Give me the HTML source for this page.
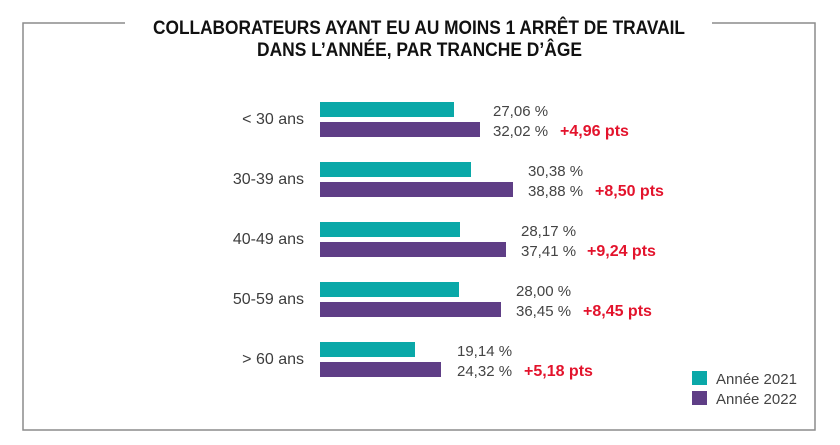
<!DOCTYPE html>
<html>
<head>
<meta charset="utf-8">
<style>
  html, body { margin: 0; padding: 0; background: #ffffff; }
  body { width: 840px; height: 445px; overflow: hidden; }
  svg { display: block; }
  .cat { font-family: "Liberation Sans", sans-serif; font-size: 16px; fill: #3d3d3d; }
  .val { font-family: "Liberation Sans", sans-serif; font-size: 15px; fill: #444444; }
  .delta { font-family: "Liberation Sans", sans-serif; font-size: 16px; font-weight: bold; fill: #e3132c; }
  .title { font-family: "Liberation Sans", sans-serif; font-size: 19px; font-weight: bold; fill: #111111; }
  .leg { font-family: "Liberation Sans", sans-serif; font-size: 15px; fill: #444444; }
</style>
</head>
<body>
<svg width="840" height="445" viewBox="0 0 840 445" xmlns="http://www.w3.org/2000/svg">
  <!-- frame -->
  <g stroke="#8c8c8c" stroke-width="1.5" fill="none">
    <polyline points="125,23 23,23 23,430 815,430 815,23 712,23"/>
  </g>

  <!-- title -->
  <text class="title" x="153" y="34" textLength="532" lengthAdjust="spacingAndGlyphs">COLLABORATEURS AYANT EU AU MOINS 1 ARRÊT DE TRAVAIL</text>
  <text class="title" x="257" y="56" textLength="325" lengthAdjust="spacingAndGlyphs">DANS L’ANNÉE, PAR TRANCHE D’ÂGE</text>

  <!-- row 1 -->
  <text class="cat" x="304" y="124" text-anchor="end">&lt; 30 ans</text>
  <rect x="320" y="102" width="134" height="15" fill="#0aa8a8"/>
  <rect x="320" y="122" width="160" height="15" fill="#5f3e86"/>
  <text class="val" x="493" y="116">27,06 %</text>
  <text class="val" x="493" y="136">32,02 %</text>
  <text class="delta" x="560" y="136">+4,96 pts</text>

  <!-- row 2 -->
  <text class="cat" x="304" y="184" text-anchor="end">30-39 ans</text>
  <rect x="320" y="162" width="151" height="15" fill="#0aa8a8"/>
  <rect x="320" y="182" width="193" height="15" fill="#5f3e86"/>
  <text class="val" x="528" y="176">30,38 %</text>
  <text class="val" x="528" y="196">38,88 %</text>
  <text class="delta" x="595" y="196">+8,50 pts</text>

  <!-- row 3 -->
  <text class="cat" x="304" y="244" text-anchor="end">40-49 ans</text>
  <rect x="320" y="222" width="140" height="15" fill="#0aa8a8"/>
  <rect x="320" y="242" width="186" height="15" fill="#5f3e86"/>
  <text class="val" x="521" y="236">28,17 %</text>
  <text class="val" x="521" y="256">37,41 %</text>
  <text class="delta" x="587" y="256">+9,24 pts</text>

  <!-- row 4 -->
  <text class="cat" x="304" y="304" text-anchor="end">50-59 ans</text>
  <rect x="320" y="282" width="139" height="15" fill="#0aa8a8"/>
  <rect x="320" y="302" width="181" height="15" fill="#5f3e86"/>
  <text class="val" x="516" y="296">28,00 %</text>
  <text class="val" x="516" y="316">36,45 %</text>
  <text class="delta" x="583" y="316">+8,45 pts</text>

  <!-- row 5 -->
  <text class="cat" x="304" y="364" text-anchor="end">&gt; 60 ans</text>
  <rect x="320" y="342" width="95" height="15" fill="#0aa8a8"/>
  <rect x="320" y="362" width="121" height="15" fill="#5f3e86"/>
  <text class="val" x="457" y="356">19,14 %</text>
  <text class="val" x="457" y="376">24,32 %</text>
  <text class="delta" x="524" y="376">+5,18 pts</text>

  <!-- legend -->
  <rect x="692" y="371" width="15" height="14" fill="#0aa8a8"/>
  <rect x="692" y="391" width="15" height="14" fill="#5f3e86"/>
  <text class="leg" x="716" y="384">Année 2021</text>
  <text class="leg" x="716" y="404">Année 2022</text>
</svg>
</body>
</html>
